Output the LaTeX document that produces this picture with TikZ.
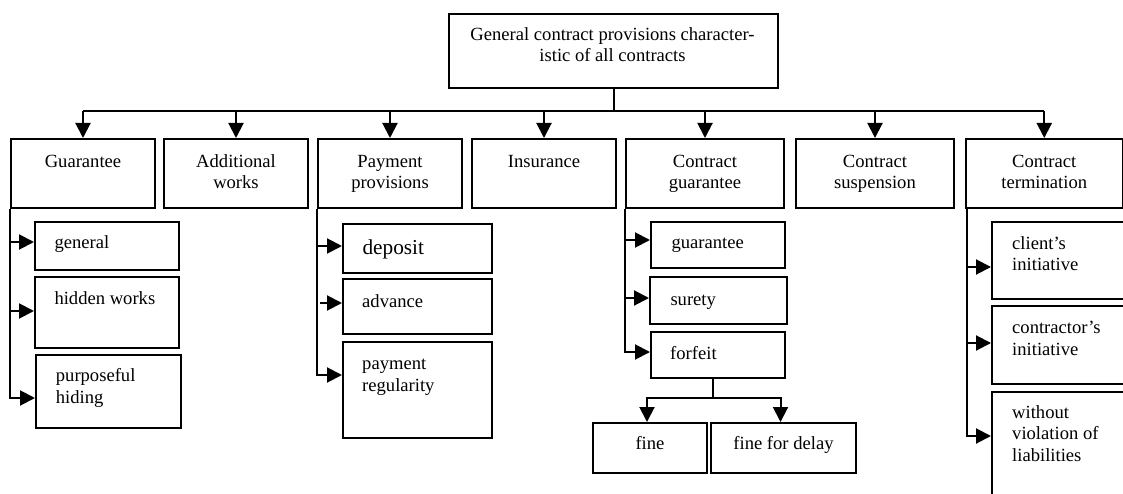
\documentclass[tikz,border=0pt]{standalone}
\usepackage{fontspec}
\setmainfont{Liberation Serif}
\usetikzlibrary{arrows.meta,calc}
\newcommand\lbfont{\fontsize{18.6}{21.6}\selectfont}
\newcommand\bigfont{\fontsize{21.3}{24.5}\selectfont}
\begin{document}
\begin{tikzpicture}[x=1pt,y=-1pt,
  box/.style={draw, line width=2pt, inner sep=0pt, anchor=north west, rectangle},
  lbl/.style={font=\lbfont, inner sep=0pt, align=left, anchor=north west},
  clbl/.style={font=\lbfont, inner sep=0pt, align=center, anchor=north},
  link/.style={line width=2pt},
  arr/.style={line width=2pt, -{Triangle[length=15pt,width=15pt]}}]
\useasboundingbox (0,0) rectangle (1123,494);
\clip (0,0) rectangle (1123,494);
\fill[white] (0,0) rectangle (1123,494);

% top box
\node[box, minimum width=329, minimum height=74] (top) at (448,13) {};
\node[clbl] (ttop) at (612.5,24.9) {\strut General contract provisions character-\\istic of all contracts};

% level 1
\node[box, minimum width=144, minimum height=69] (g)    at (10,138) {};
\node[box, minimum width=144, minimum height=69] (add)  at (163,138) {};
\node[box, minimum width=144, minimum height=69] (pay)  at (317,138) {};
\node[box, minimum width=144, minimum height=69] (ins)  at (471,138) {};
\node[box, minimum width=158, minimum height=69] (cg)   at (625,138) {};
\node[box, minimum width=158, minimum height=69] (sus)  at (795,138) {};
\node[box, minimum width=156.5, minimum height=69] (term) at (965,138) {};

\node[clbl] (tg)    at (g.north |- 0,151.9)    {\strut Guarantee};
\node[clbl] (tadd)  at (add.north |- 0,151.9)  {\strut Additional\\works};
\node[clbl] (tpay)  at (pay.north |- 0,151.9)  {\strut Payment\\provisions};
\node[clbl] (tins)  at (ins.north |- 0,151.9)  {\strut Insurance};
\node[clbl] (tcg)   at (cg.north |- 0,151.9)   {\strut Contract\\guarantee};
\node[clbl] (tsus)  at (sus.north |- 0,151.9)  {\strut Contract\\suspension};
\node[clbl] (tterm) at (term.north |- 0,151.9) {\strut Contract\\termination};

% sub boxes
\node[box, minimum width=144, minimum height=48] (gen) at (34,221) {};
\node[box, minimum width=144, minimum height=71] (hid) at (34,276) {};
\node[box, minimum width=145, minimum height=73] (pur) at (35,354) {};
\node[box, minimum width=149, minimum height=49] (dep) at (342,223) {};
\node[box, minimum width=149, minimum height=55] (adv) at (342,278) {};
\node[box, minimum width=149, minimum height=96] (preg) at (342,341) {};
\node[box, minimum width=134, minimum height=46] (gua) at (650,221) {};
\node[box, minimum width=137, minimum height=47] (sur) at (649,276) {};
\node[box, minimum width=134, minimum height=46] (forf) at (650,331) {};
\node[box, minimum width=114, minimum height=50] (fine) at (592,422) {};
\node[box, minimum width=145, minimum height=50] (fdel) at (710,422) {};
\node[box, minimum width=150, minimum height=77] (cli) at (991,221) {};
\node[box, minimum width=150, minimum height=78] (con) at (991,305) {};
\node[box, minimum width=150, minimum height=120] (wov) at (991,391) {};

\node[lbl] (tgen) at (54.3,232.9) {\strut general};
\node[lbl] (thid) at (54.3,288.9) {\strut hidden works};
\node[lbl] (tpur) at (55.7,366.6) {\strut purposeful\\hiding};
\node[lbl, font=\bigfont] (tdep) at (362.3,236.9) {\strut deposit};
\node[lbl] (tadv) at (362,292.2) {\strut advance};
\node[lbl] (tpreg) at (362,354.6) {\strut payment\\regularity};
\node[lbl] (tgua) at (671.3,232.9) {\strut guarantee};
\node[lbl] (tsur) at (670.3,290.6) {\strut surety};
\node[lbl] (tforf) at (670,343.9) {\strut forfeit};
\node[clbl] (tfine) at (fine.north |- 0,434.6) {\strut fine};
\node[clbl] (tfdel) at (fdel.north |- 0,434.6) {\strut fine for delay};
\node[lbl] (tcli) at (1012,233.9) {\strut client’s\\initiative};
\node[lbl] (tcon) at (1012,318.2) {\strut contractor’s\\initiative};
\node[lbl] (twov) at (1012,402.9) {\strut without\\violation of\\liabilities};

% top connectors
\draw[link] (top.south) -- (top.south |- 0,111);
\draw[link] (g.north |- 0,111) -- (term.north |- 0,111);
\foreach \b in {g,add,pay,ins,cg,sus,term}
  \draw[arr] (\b.north |- 0,111) -- (\b.north);

% guarantee column
\draw[arr] (g.south west) -- (g.south west |- 0,398) -- (pur.west |- 0,398);
\draw[arr] (g.south west |- 0,242) -- (gen.west |- 0,242);
\draw[arr] (g.south west |- 0,311) -- (hid.west |- 0,311);

% payment column
\draw[arr] (pay.south west) -- (pay.south west |- 0,375) -- (preg.west |- 0,375);
\draw[arr] (pay.south west |- 0,246) -- (dep.west |- 0,246);
\draw[arr] ($(pay.south west |- 0,303)+(3,0)$) -- (adv.west |- 0,303);

% contract guarantee column
\draw[arr] (cg.south west) -- (cg.south west |- 0,352) -- (forf.west |- 0,352);
\draw[arr] (cg.south west |- 0,240) -- (gua.west |- 0,240);
\draw[arr] (cg.south west |- 0,298) -- (sur.west |- 0,298);
\coordinate (fj) at ($(forf.south)+(-5,19)$);
\draw[link] ($(forf.south)+(-5,0)$) -- (fj);
\draw[arr] (fj) -| ($(fine.north)+(-3,0)$);
\draw[arr] (fj) -| ($(fdel.north)+(-3,0)$);

% termination column
\coordinate (tv) at ($(term.south west)+(2,0)$);
\draw[arr] (tv) -- (tv |- 0,436) -- (wov.west |- 0,436);
\draw[arr] (tv |- 0,267) -- (cli.west |- 0,267);
\draw[arr] (tv |- 0,343) -- (con.west |- 0,343);
\end{tikzpicture}
\end{document}
